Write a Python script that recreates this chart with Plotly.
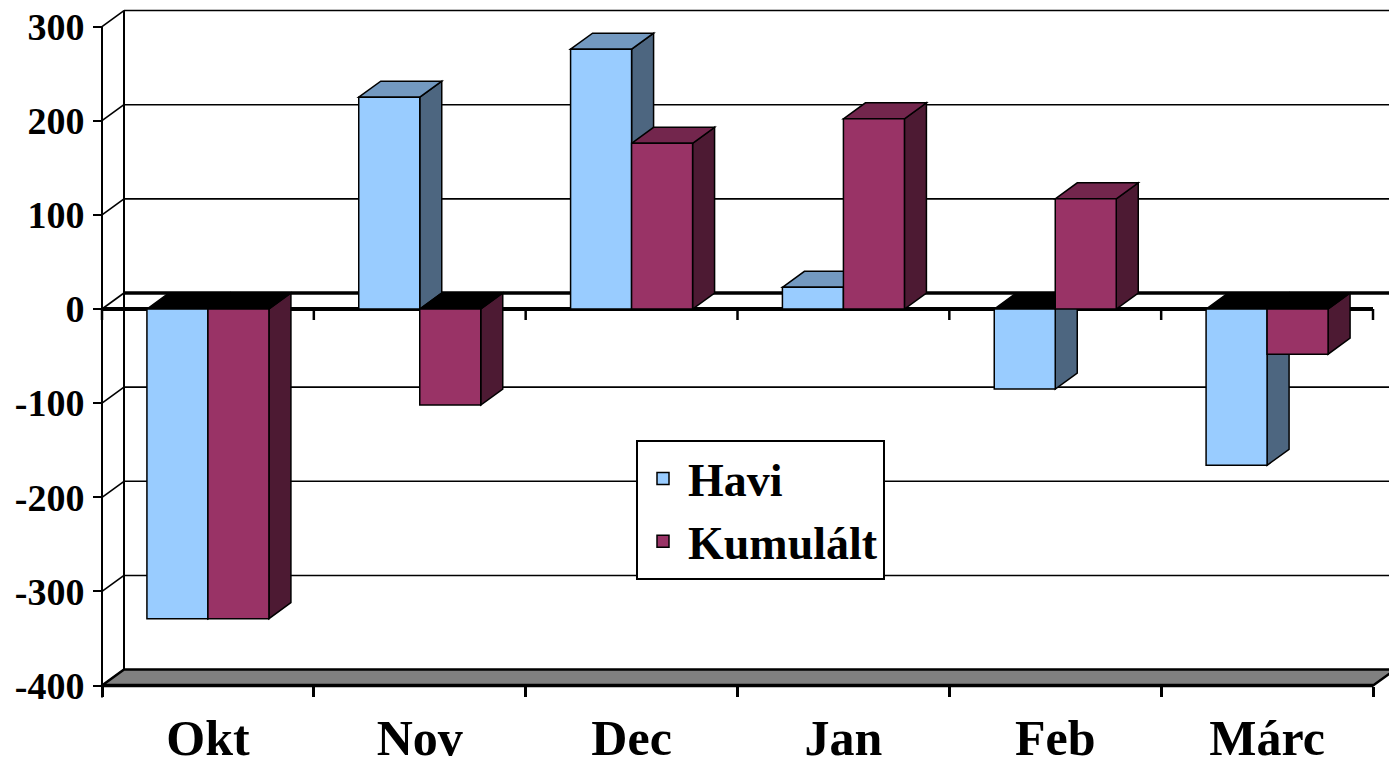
import plotly.graph_objects as go

# ---------------- data ----------------
categories = ["Okt", "Nov", "Dec", "Jan", "Feb", "Márc"]
havi = [-329, 225, 276, 23, -85, -166]
kumulalt = [-329, -102, 176, 202, 117, -48]
y_ticks = [-400, -300, -200, -100, 0, 100, 200, 300]
y_tick_labels = [str(v) for v in y_ticks]
series_names = ["Havi", "Kumulált"]

# ---------------- geometry / style ----------------
W, H = 1389, 765
AX_LEFT, AX_RIGHT = 102, 1373          # front plane x extent (px)
Y0_PX = 309                             # pixel row of value 0
PX_PER_UNIT = (686 - 27) / 700.0
CAT_PX = (AX_RIGHT - AX_LEFT) / len(categories)
x_lo = -0.5 - AX_LEFT / CAT_PX
x_hi = -0.5 + (W - AX_LEFT) / CAT_PX
y_hi = Y0_PX / PX_PER_UNIT
y_lo = (Y0_PX - H) / PX_PER_UNIT

DX = 22 / CAT_PX          # depth offset in category units
DY = 16 / PX_PER_UNIT     # depth offset in value units
BAR_W = 61 / CAT_PX
TICK_DOWN = 11 / PX_PER_UNIT

FONT = "Liberation Serif"
colors = {
    "Havi": dict(front="#99CCFF", top="#7399C0", side="#4D6680"),
    "Kumulált": dict(front="#993366", top="#73264D", side="#4D1A33"),
}

ymin, ymax = min(y_ticks), max(y_ticks)
n = len(categories)
left_edge = -0.5
right_edge = n - 0.5


def path(points):
    return "M " + " L ".join(f"{x:.5f},{y:.5f}" for x, y in points) + " Z"


shapes = []


def line(x0, y0, x1, y1, w=1.5, color="black"):
    shapes.append(dict(type="line", xref="x", yref="y", x0=x0, y0=y0, x1=x1, y1=y1,
                       line=dict(color=color, width=w), layer="below"))


# back wall grid lines + left wall diagonals
for v in y_ticks:
    if v not in (0, ymin):
        line(left_edge + DX, v + DY, x_hi + 1, v + DY, 1.6)
    line(left_edge, v, left_edge + DX, v + DY, 1.6)
# left wall vertical edge
line(left_edge + DX, ymax + DY, left_edge + DX, ymin + DY, 2)
# floor
shapes.append(dict(type="path", xref="x", yref="y",
                   path=path([(left_edge, ymin), (right_edge, ymin),
                              (right_edge + DX, ymin + DY), (left_edge + DX, ymin + DY)]),
                   fillcolor="#808080", line=dict(color="black", width=2.5), layer="below"))
line(left_edge, ymin, right_edge, ymin, 3.5)
# back zero line
line(left_edge + DX, DY, x_hi + 1, DY, 3.5)
# front zero line
line(left_edge, 0, right_edge, 0, 4)
# ticks under the zero line
for i in range(n + 1):
    line(left_edge + i, 0, left_edge + i, -TICK_DOWN, 2.5)
# front value axis line
line(left_edge, ymax, left_edge, ymin - 12 / PX_PER_UNIT, 2)

# 3D side and top faces, drawn left to right
for i in range(n):
    for name, vals, x0 in (("Havi", havi, i - BAR_W), ("Kumulált", kumulalt, i)):
        v = vals[i]
        x1 = x0 + BAR_W
        top, bot = max(v, 0), min(v, 0)
        c = colors[name]
        shapes.append(dict(type="path", xref="x", yref="y",
                           path=path([(x1, top), (x1 + DX, top + DY), (x1 + DX, bot + DY), (x1, bot)]),
                           fillcolor=c["side"], line=dict(color="black", width=1.5), layer="below"))
        shapes.append(dict(type="path", xref="x", yref="y",
                           path=path([(x0, top), (x0 + DX, top + DY), (x1 + DX, top + DY), (x1, top)]),
                           fillcolor=(c["top"] if v > 0 else "black"),
                           line=dict(color="black", width=1.5), layer="below"))

fig = go.Figure()
xs = list(range(n))
fig.add_trace(go.Bar(x=xs, y=havi, name=series_names[0], width=BAR_W, offset=-BAR_W,
                     marker=dict(color=colors["Havi"]["front"], line=dict(color="black", width=1.5))))
fig.add_trace(go.Bar(x=xs, y=kumulalt, name=series_names[1], width=BAR_W, offset=0,
                     marker=dict(color=colors["Kumulált"]["front"], line=dict(color="black", width=1.5))))

fig.update_layout(
    width=W, height=H,
    margin=dict(l=0, r=0, t=0, b=0, pad=0),
    paper_bgcolor="white", plot_bgcolor="white",
    shapes=shapes,
    barmode="overlay",
    showlegend=True,
    legend=dict(x=636 / W, y=1 - 440 / H, xanchor="left", yanchor="top",
                bgcolor="white", bordercolor="black", borderwidth=2,
                font=dict(family=FONT, size=46, color="black", weight="bold"),
                itemwidth=40, tracegroupgap=0),
    xaxis=dict(type="linear", range=[x_lo, x_hi], domain=[0, 1], anchor="free",
               position=(H - 686) / H, automargin=False,
               showgrid=False, zeroline=False, showline=False,
               tickmode="array", tickvals=xs, ticktext=categories, ticks="",
               tickfont=dict(family=FONT, size=50, color="black", weight="bold"),
               ticklabelstandoff=18,
               minor=dict(ticks="outside", ticklen=10, tickwidth=2.5, tickcolor="black",
                          tick0=-0.5, dtick=1, showgrid=False)),
    yaxis=dict(range=[y_lo, y_hi], domain=[0, 1], anchor="free", position=AX_LEFT / W,
               automargin=False, showgrid=False, zeroline=False, showline=False,
               tickmode="array", tickvals=y_ticks, ticktext=y_tick_labels,
               ticks="outside", ticklen=9, tickwidth=2, tickcolor="black",
               tickfont=dict(family=FONT, size=38, color="black", weight="bold"),
               ticklabelstandoff=1),
)

fig.write_html("out.html", config={"displayModeBar": False},
               post_script="document.body.style.margin='0';document.body.style.overflow='hidden';")
